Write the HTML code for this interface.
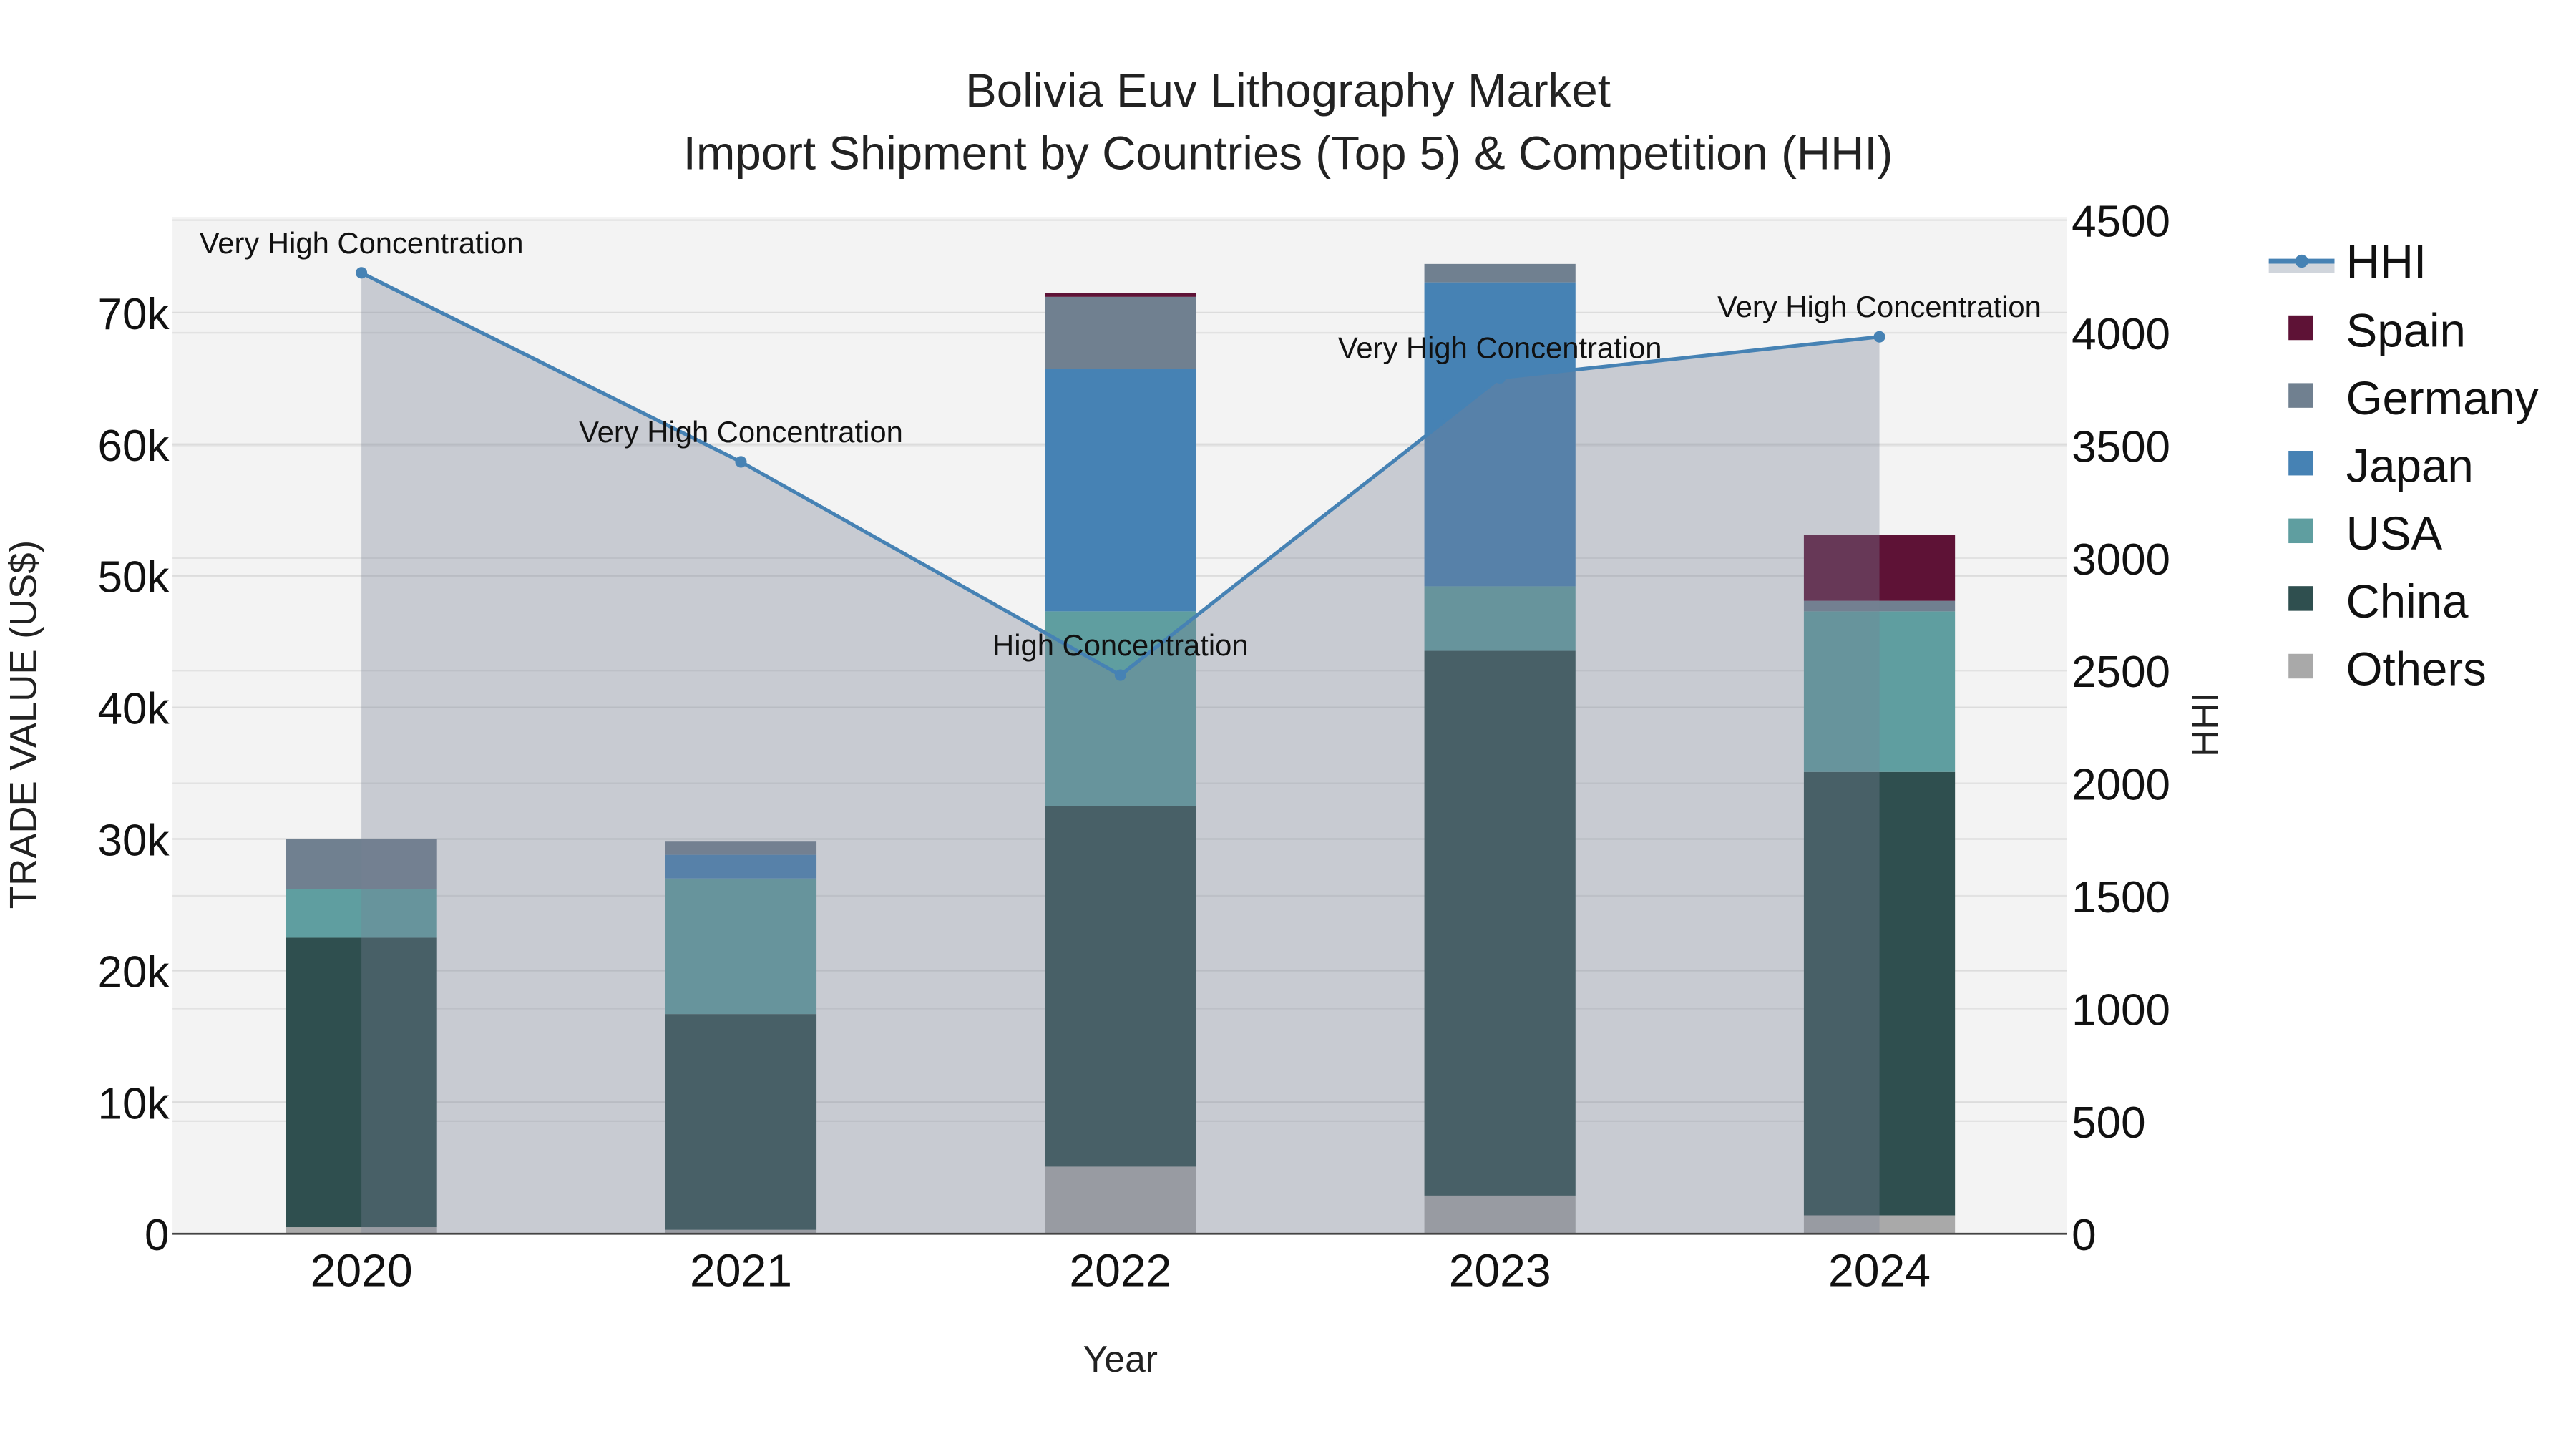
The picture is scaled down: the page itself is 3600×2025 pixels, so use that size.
<!DOCTYPE html>
<html><head><meta charset="utf-8"><style>
html,body{margin:0;padding:0;background:#fff}
svg{display:block;font-family:"Liberation Sans",sans-serif}
</style></head><body>
<svg id="chart" width="3600" height="2025" viewBox="0 0 1568 882" xmlns="http://www.w3.org/2000/svg">
<rect x="0" y="0" width="1568" height="882" fill="#fff"/>
<rect x="105" y="132" width="1153" height="619" fill="#f3f3f3"/>
<g id="grid"></g>
<g id="bars"></g>
<g id="hhi"></g>
<g id="axes"></g>
<text x="784" y="65" text-anchor="middle" font-size="28.5" fill="#222">Bolivia Euv Lithography Market</text>
<text x="784" y="103" text-anchor="middle" font-size="28.5" fill="#222">Import Shipment by Countries (Top 5) &amp; Competition (HHI)</text>
<text x="682" y="835" text-anchor="middle" font-size="22.5" fill="#222">Year</text>
<text transform="translate(22,441) rotate(-90)" text-anchor="middle" font-size="23" fill="#222">TRADE VALUE (US$)</text>
<text transform="translate(1350,441) rotate(-90)" text-anchor="middle" font-size="23" fill="#222">HHI</text>
<g id="legend"></g>
</svg>
<script>
const years = ["2020","2021","2022","2023","2024"];
const others = [0.5, 0.3, 5.1, 2.9, 1.4];
const china = [22.0, 16.4, 27.4, 41.4, 33.7];
const usa = [3.7, 10.3, 14.8, 4.9, 12.2];
const japan = [0, 1.8, 18.4, 23.1, 0];
const germany = [3.8, 1.0, 5.5, 1.4, 0.8];
const spain = [0, 0, 0.3, 0, 5.0];
const hhi = [4266, 3427, 2480, 3800, 3982];
const hhiLabels = ["Very High Concentration","Very High Concentration","High Concentration","Very High Concentration","Very High Concentration"];
const yTicks = [0,10,20,30,40,50,60,70];
const y2Ticks = [0,500,1000,1500,2000,2500,3000,3500,4000,4500];

const NS="http://www.w3.org/2000/svg";
function mk(tag, attrs, parent){const e=document.createElementNS(NS,tag);for(const k in attrs)e.setAttribute(k,attrs[k]);parent.appendChild(e);return e;}
const X0=220, DX=231, BW=92, Y0=751;
function xPos(i){return X0+i*DX;}
function yL(v){return Y0 - v*8.01;}
function yR(v){return Y0 - v*(617/4500);}

const grid=document.getElementById('grid');
y2Ticks.forEach(t=>{const l=mk('line',{x1:105,x2:1258,y1:yR(t),y2:yR(t),stroke:'#e2e2e2','stroke-width':1},grid);

});
yTicks.forEach(t=>{const l=mk('line',{x1:105,x2:1258,y1:yL(t),y2:yL(t),stroke:'#dcdcdc','stroke-width':1},grid);

});

const series=[["others",others,"#a9a9a9"],["china",china,"#2f4f4f"],["usa",usa,"#5f9ea0"],["japan",japan,"#4682b4"],["germany",germany,"#708090"],["spain",spain,"#5e1236"]];
const bars=document.getElementById('bars');
years.forEach((y,i)=>{let cum=0;series.forEach(([n,arr,c])=>{const v=arr[i];if(v>0){const r=mk('rect',{x:xPos(i)-BW/2,y:yL(cum+v),width:BW,height:yL(cum)-yL(cum+v),fill:c},bars);

}cum+=v;});});

const hg=document.getElementById('hhi');
let pts=hhi.map((v,i)=>xPos(i)+','+yR(v)).join(' ');
const area=mk('polygon',{points:xPos(0)+','+Y0+' '+pts+' '+xPos(hhi.length-1)+','+Y0,fill:'rgb(120,130,150)','fill-opacity':0.35},hg);


const line=mk('polyline',{points:pts,fill:'none',stroke:'#4682b4','stroke-width':2.2},hg);


hhi.forEach((v,i)=>{const c=mk('circle',{cx:xPos(i),cy:yR(v),r:3.5,fill:'#4682b4'},hg);


const t=mk('text',{x:xPos(i),y:yR(v)-12,'text-anchor':'middle','font-size':18.2,fill:'#111'},hg);t.textContent=hhiLabels[i];

});

const ax=document.getElementById('axes');
const bl=mk('line',{x1:105,x2:1258,y1:Y0,y2:Y0,stroke:'#444','stroke-width':1.2},ax);


yTicks.forEach(t=>{const e=mk('text',{x:103,y:yL(t)+10,'text-anchor':'end','font-size':27,fill:'#111'},ax);e.textContent=t===0?'0':t+'k';

});
y2Ticks.forEach(t=>{const e=mk('text',{x:1261,y:yR(t)+10,'font-size':27,fill:'#111'},ax);e.textContent=t;

});
years.forEach((y,i)=>{const e=mk('text',{x:xPos(i),y:783,'text-anchor':'middle','font-size':28,fill:'#111'},ax);e.textContent=y;

});

const lg=document.getElementById('legend');
const lb=mk('rect',{x:1381,y:159,width:40,height:7,fill:'#d0d5dc'},lg);


const ll=mk('line',{x1:1381,x2:1421,y1:159,y2:159,stroke:'#4682b4','stroke-width':3},lg);


const lc=mk('circle',{cx:1401,cy:159,r:4,fill:'#4682b4'},lg);


const lt=mk('text',{x:1428,y:169,'font-size':28.5,fill:'#111'},lg);lt.textContent='HHI';


const legItems=[["Spain","#5e1236"],["Germany","#708090"],["Japan","#4682b4"],["USA","#5f9ea0"],["China","#2f4f4f"],["Others","#a9a9a9"]];
legItems.forEach(([n,c],k)=>{const cy=201+k*41.2;
const s=mk('rect',{x:1393,y:cy-9,width:15,height:15,fill:c},lg);


const t=mk('text',{x:1428,y:cy+10,'font-size':28.5,fill:'#111'},lg);t.textContent=n;

});
</script>
</body></html>
